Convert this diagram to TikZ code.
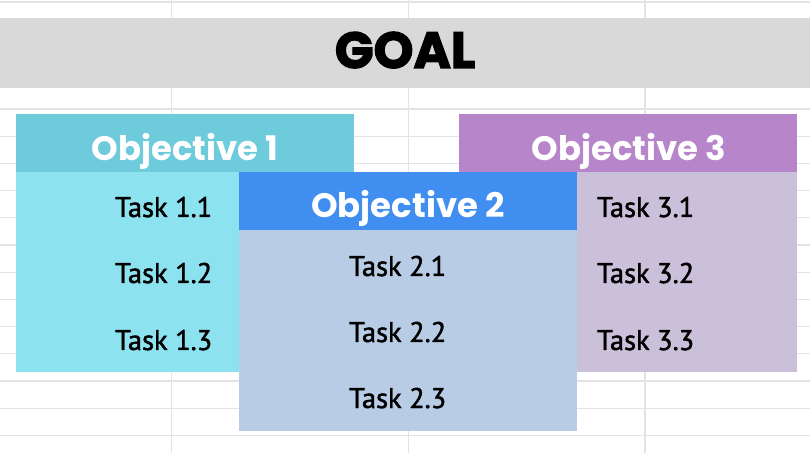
\documentclass[tikz,border=0pt]{standalone}
\usepackage{fontspec}
\newfontfamily\headfont{Poppins}
\newfontfamily\goalfont{Poppins}[BoldFeatures={FakeBold=2.5}]
\newfontfamily\taskfont{PT Sans}[FakeBold=1.6]
\definecolor{gridc}{HTML}{E3E3E3}
\definecolor{goalbg}{HTML}{D9D9D9}
\definecolor{oneh}{HTML}{6ECBDC}
\definecolor{oneb}{HTML}{8DE2F0}
\definecolor{twoh}{HTML}{408EF0}
\definecolor{twob}{HTML}{B8CCE5}
\definecolor{threeh}{HTML}{B785C9}
\definecolor{threeb}{HTML}{CBC0DA}
\tikzset{
  panel/.style={rectangle, inner sep=0pt, outer sep=0pt, anchor=north west, draw=none},
  headtxt/.style={text=white, font=\headfont\bfseries\fontsize{34}{34}\selectfont, inner sep=0pt, anchor=base},
  tasktxt/.style={text=black, font=\taskfont\fontsize{28.5}{28.5}\selectfont, anchor=base west, inner sep=0pt},
  gridline/.style={draw=gridc, line width=1.3bp}
}
\begin{document}
\begin{tikzpicture}[x=1bp,y=-1bp]
\fill[white] (0,0) rectangle (810,453);
\useasboundingbox (0,0) rectangle (810,453);
% grid
\foreach \yy in {2,109,136.2,163.4,190.6,217.8,245,272.2,299.4,326.6,353.8,381,408.2,435.4}
  \draw[gridline] (0,\yy) -- (810,\yy);
\foreach \xx in {171.5,408.5,645}
  \draw[gridline] (\xx,0) -- (\xx,453);
% goal
\node[panel, fill=goalbg, minimum width=810bp, minimum height=70bp] (goal) at (0,18) {};
\node[font=\goalfont\bfseries\fontsize{51}{51}\selectfont, inner sep=0pt, anchor=base] (goaltxt) at (405,68) {GOAL};
% objective 1
\node[panel, fill=oneb, minimum width=338bp, minimum height=200bp] (b1) at (16,172) {};
\node[panel, fill=oneh, minimum width=338bp, minimum height=58bp] (h1) at (16,114) {};
\node[headtxt] (h1t) at (185,161) {Objective 1};
\node[tasktxt] (t11) at (115,217) {Task 1.1};
\node[tasktxt] (t12) at (115,283) {Task 1.2};
\node[tasktxt] (t13) at (115,350) {Task 1.3};
% objective 3
\node[panel, fill=threeb, minimum width=338bp, minimum height=200bp] (b3) at (459,172) {};
\node[panel, fill=threeh, minimum width=338bp, minimum height=58bp] (h3) at (459,114) {};
\node[headtxt] (h3t) at (629,161) {Objective 3};
\node[tasktxt] (t31) at (597,217) {Task 3.1};
\node[tasktxt] (t32) at (597,283) {Task 3.2};
\node[tasktxt] (t33) at (597,350) {Task 3.3};
% objective 2
\node[panel, fill=twob, minimum width=338bp, minimum height=201bp] (b2) at (239,230) {};
\node[panel, fill=twoh, minimum width=338bp, minimum height=58bp] (h2) at (239,172) {};
\node[headtxt] (h2t) at (408,218) {Objective 2};
\node[tasktxt] (t21) at (349,276) {Task 2.1};
\node[tasktxt] (t22) at (349,342) {Task 2.2};
\node[tasktxt] (t23) at (349,408) {Task 2.3};
\end{tikzpicture}
\end{document}
